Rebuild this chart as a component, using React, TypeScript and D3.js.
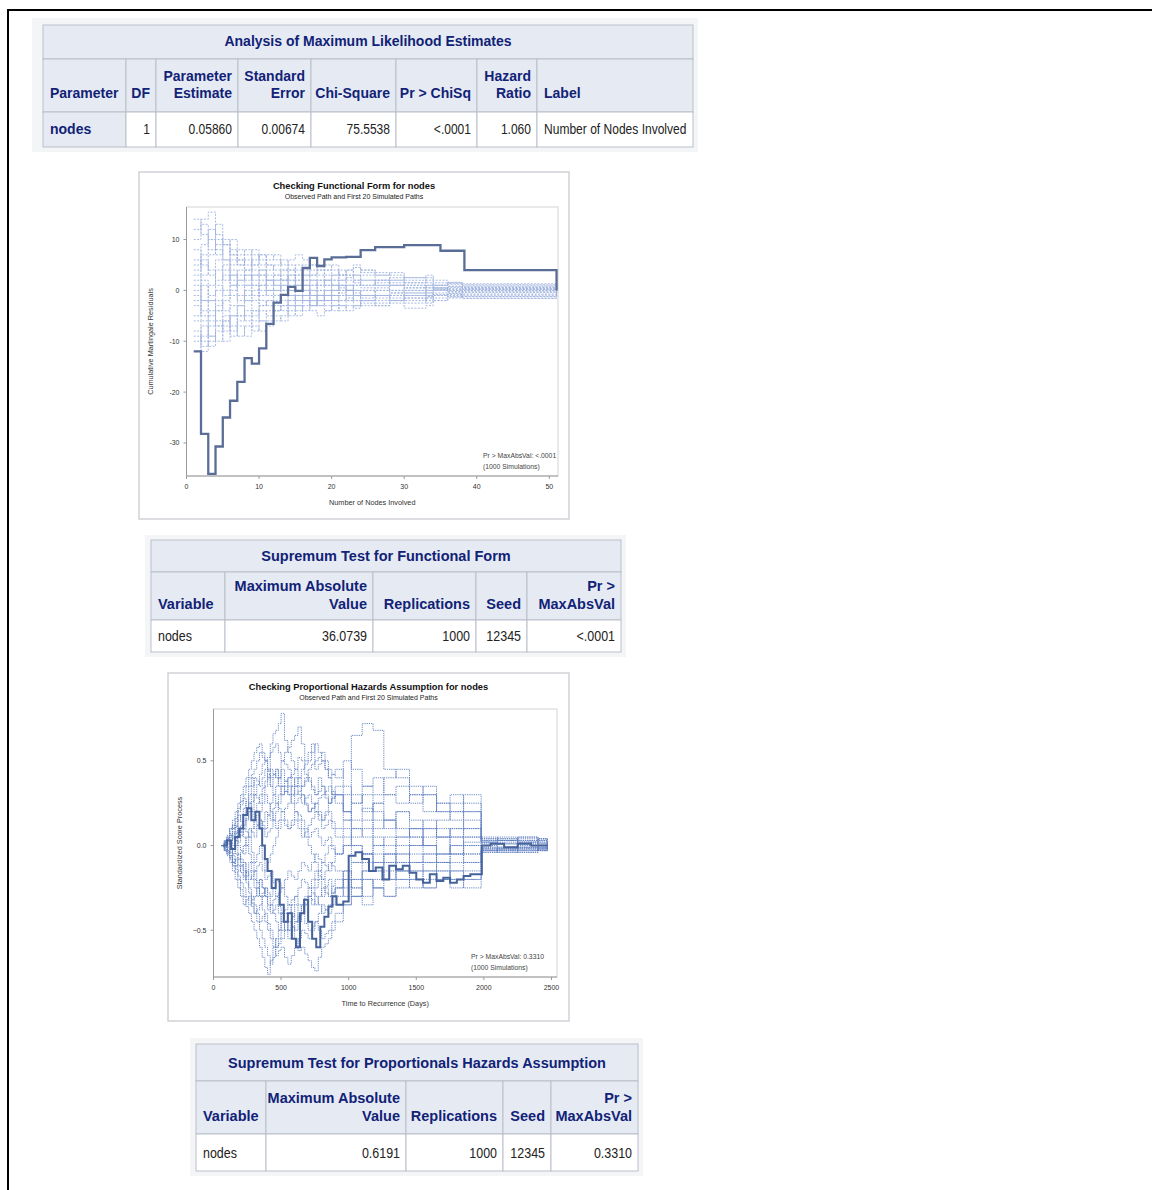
import React from 'react';
import * as d3 from 'd3';

const FONT = "'Liberation Sans', Arial, Helvetica, sans-serif";
const NAVY = '#112277';
const HEAD_BG = '#e6ebf3';
const BORDER = '#b9bfca';
const OUTER_BG = '#f4f5f7';

// ---------- Table data ----------
const mleTitle = 'Analysis of Maximum Likelihood Estimates';
const mleHeaders = [['Parameter'], ['DF'], ['Parameter', 'Estimate'], ['Standard', 'Error'], ['Chi-Square'], ['Pr > ChiSq'], ['Hazard', 'Ratio'], ['Label']];
const mleRow = ['nodes', '1', '0.05860', '0.00674', '75.5538', '<.0001', '1.060', 'Number of Nodes Involved'];

const supFFTitle = 'Supremum Test for Functional Form';
const supHeaders = [['Variable'], ['Maximum Absolute', 'Value'], ['Replications'], ['Seed'], ['Pr >', 'MaxAbsVal']];
const supFFRow = ['nodes', '36.0739', '1000', '12345', '<.0001'];

const supPHTitle = 'Supremum Test for Proportionals Hazards Assumption';
const supPHRow = ['nodes', '0.6191', '1000', '12345', '0.3310'];

// ---------- Chart 1: functional form ----------
const ffObsX = [1, 2, 3, 4, 5, 6, 7, 8, 9, 10, 11, 12, 13, 14, 15, 16, 17, 18, 19, 20, 22, 24, 26, 30, 35, 38.3, 51];
const ffObsY = [-12, -28.2, -36.1, -30.7, -25, -21.7, -18, -13.3, -14.4, -11.4, -6.6, -2.4, -0.9, 0.7, -0.1, 4.4, 6.4, 4.8, 6.1, 6.5, 6.6, 7.9, 8.5, 8.9, 7.8, 4.0, 0];

const ffSimX = [1, 2, 3, 4, 5, 6, 7, 8, 9, 10, 11, 12, 13, 14, 15, 16, 17, 18, 19, 20, 21, 22, 23, 24, 26, 28, 30, 33, 34, 36, 38, 51];
const ffSim01 = [5, 9, 12, 8, 6, 4, 2, 3, 1, -1, 0, 2, 3, 1, 2, 3, 2, 1, 2, 3, 2, 2.5, 3, 2, 1.5, 2, 1, 0.5, 1, 0.8, 0.6, 0];
const ffSim02 = [-3, -6, -9, -7, -5, -8, -6, -4, -5, -3, -2, -4, -3, -1, -2, -1, 0, -1, -2, -1, -0.5, 0, -1, -1.5, -1, -0.5, -1, -1.2, -0.8, -0.5, -0.9, 0];
const ffSim03 = [12, 14, 15.4, 11, 9, 7, 5, 6, 4, 3, 5, 4, 2, 3, 1, 2, 3, 2, 1, 0, 1, 2, 1.5, 1, 2, 1, 0, 0.5, 0.3, 0.6, 0.2, 0];
const ffSim04 = [-8, -11, -9, -10, -7, -5, -7, -9, -6, -4, -5, -3, -4, -2, -3, -2, -1, -3, -2, -3, -2, -1.5, -2, -3, -2.5, -2, -1.5, -2, -1, -1.3, -0.7, 0];
const ffSim05 = [2, -2, 1, 4, 2, 6, 8, 5, 7, 6, 4, 5, 6, 4, 5, 3, 4, 5, 4, 3, 4, 3, 4.5, 3.5, 3, 2, 2.5, 1.5, 1, 1.4, 1.1, 0];
const ffSim06 = [-12, -9, -5, -2, -4, -1, -3, 0, -2, 1, -1, 0, 1, -1, 0, 1, 0, -1, 0, 1, 0.5, 0, -0.5, 0, 0.5, 0, -0.5, 0, 0.2, -0.2, 0, 0];
const ffSim07 = [8, 5, 3, 6, 4, 1, 3, 1, -1, 2, 0, -2, -1, 0, -2, -1, -3, -2, -1, -2, -1, -2, -1, -2, -1.5, -1, -2, -1.5, -1, -0.8, -1.2, 0];
const ffSim08 = [0, 3, 7, 9, 10, 7, 5, 7, 8, 5, 7, 6, 4, 5, 3, 4, 5, 3, 4, 5, 3, 4, 3, 4, 3.5, 3, 2, 2.5, 1.5, 1.2, 0.9, 0];
const ffSim09 = [-5, -2, -4, -7, -10, -7, -9, -7, -8, -6, -7, -5, -6, -4, -5, -3, -4, -5, -4, -3, -4, -3, -3.5, -2.5, -3, -2, -2.5, -1.5, -2, -1.2, -1.5, 0];
const ffSim10 = [10, 13, 10, 7, 9, 5, 6, 4, 2, 3, 1, 3, 2, 4, 3, 1, 2, 0, 1, 2, 1, 0, 1, 0.5, 1, 1.5, 1, 0, 0.5, 0.2, 0.4, 0];
const ffSim11 = [-10, -7, -11, -8, -6, -9, -5, -6, -4, -6, -4, -6, -5, -3, -4, -2, -3, -2, -3, -4, -3, -2, -3, -2, -1, -2, -1, -2.5, -1.5, -1, -1.6, 0];
const ffSim12 = [3, 6, 4, 1, -1, 1, -2, -1, 1, 0, 2, 1, -1, 0, 1, 0, -1, 1, 2, 1, 0, 1, 0, -1, 0, 1, 0.5, 1, 0.5, 0, 0.3, 0];
const ffSim13 = [6, 2, -2, -4, -2, 0, 2, 4, 6, 7, 6, 7, 5, 6, 7, 6, 5, 4, 5, 4, 3, 4, 5, 4, 3, 3.5, 2.5, 3, 2, 1.5, 1.3, 0];
const ffSim14 = [-6, -10, -7, -4, -6, -3, -5, -2, -4, -2, -3, -1, 0, -2, -1, 0, -2, -1, -2, -1, -2, -1, 0, -1, -2, -1, -1.5, -0.5, -1, -0.6, -0.4, 0];
const ffSim15 = [1, -4, -6, -3, 0, 3, 1, -2, 0, -3, -2, -4, -2, -3, -1, -2, -3, -1, 0, -1, 0, -1, -2, -1, 0, -0.5, 0, -1, -0.5, 0, -0.3, 0];
const ffSim16 = [14, 11, 8, 10, 6, 8, 7, 8, 5, 4, 2, 1, 2, 0, 1, 2, 1, 2, 3, 2, 3, 1, 2, 3, 2, 1, 1.5, 1, 0.5, 0.8, 0.5, 0];
const ffSim17 = [-2, 1, -1, 2, 5, 3, 4, 2, 3, 1, 3, 2, 0, 2, 0, -1, 1, 0, -1, 0, -1, 0, 1, 2, 1, 0, 0.5, -0.5, 0, -0.3, -0.1, 0];
const ffSim18 = [-9, -12, -10, -6, -8, -5, -3, -5, -7, -8, -6, -4, -3, -5, -3, -4, -2, -3, -4, -2, -3, -4, -3, -2, -3, -2.5, -3.5, -3, -2, -1.5, -1.1, 0];
const ffSim19 = [4, 7, 10, 13, 9, 10, 6, 3, 5, 7, 5, 3, 4, 2, 4, 5, 3, 4, 2, 1, 2, 3, 2, 1, 2, 2.5, 1.5, 2, 1, 1.6, 0.7, 0];
const ffSim20 = [-1, -5, -2, 0, 3, 2, -1, 1, 3, 4, 2, 0, 1, 3, 2, 1, -1, -2, -1, 0, 1, 0, -1, 0, -1, -1.5, -0.5, -1, 0, 0.4, 0.1, 0];
const ffSims = [ffSim01, ffSim02, ffSim03, ffSim04, ffSim05, ffSim06, ffSim07, ffSim08, ffSim09, ffSim10, ffSim11, ffSim12, ffSim13, ffSim14, ffSim15, ffSim16, ffSim17, ffSim18, ffSim19, ffSim20];
const ffXTicks = [0, 10, 20, 30, 40, 50];
const ffYTicks = [-30, -20, -10, 0, 10];

// ---------- Chart 2: proportional hazards ----------
const phObsT = [70, 100, 130, 160, 190, 220, 250, 280, 310, 340, 360, 380, 400, 430, 460, 490, 520, 550, 580, 610, 640, 670, 700, 730, 760, 790, 820, 850, 880, 910, 960, 1000, 1050, 1100, 1150, 1200, 1250, 1300, 1350, 1400, 1450, 1500, 1550, 1600, 1650, 1700, 1750, 1800, 1850, 1900, 1985, 2050, 2150, 2250, 2350, 2470];
const phObsY = [0, 0.03, -0.02, 0.05, 0.1, 0.18, 0.22, 0.15, 0.2, 0.1, 0.0, -0.08, -0.15, -0.25, -0.2, -0.35, -0.45, -0.4, -0.55, -0.6, -0.4, -0.32, -0.45, -0.55, -0.6, -0.48, -0.42, -0.36, -0.3, -0.35, -0.33, -0.06, -0.04, -0.08, -0.15, -0.13, -0.2, -0.12, -0.14, -0.12, -0.16, -0.2, -0.22, -0.17, -0.21, -0.19, -0.22, -0.2, -0.18, -0.17, 0.0, 0.01, -0.01, 0.01, 0.0, 0];

const phSimT = [60, 80, 100, 120, 140, 160, 180, 200, 220, 240, 260, 280, 300, 320, 340, 360, 380, 400, 420, 440, 460, 480, 500, 525, 550, 575, 600, 625, 650, 675, 700, 725, 750, 775, 800, 825, 850, 875, 900, 960, 1020, 1100, 1180, 1260, 1350, 1450, 1550, 1650, 1750, 1850, 1980, 2100, 2250, 2400, 2470];
const phSim01 = [0, 0.02, 0.05, 0.1, 0.12, 0.08, 0.2, 0.24, 0.28, 0.22, 0.35, 0.4, 0.3, 0.36, 0.42, 0.48, 0.5, 0.44, 0.6, 0.66, 0.68, 0.72, 0.78, 0.62, 0.55, 0.5, 0.45, 0.52, 0.5, 0.42, 0.38, 0.33, 0.3, 0.4, 0.35, 0.28, 0.25, 0.32, 0.3, 0.2, 0.15, 0.22, 0.1, 0.15, 0.05, 0.1, 0.0, 0.05, -0.05, 0.02, 0.02, 0.03, 0.01, 0.02, 0];
const phSim02 = [0, -0.03, -0.05, -0.02, -0.12, -0.16, -0.2, -0.26, -0.3, -0.36, -0.4, -0.45, -0.5, -0.55, -0.6, -0.66, -0.72, -0.76, -0.68, -0.6, -0.55, -0.5, -0.45, -0.4, -0.5, -0.42, -0.35, -0.45, -0.4, -0.34, -0.3, -0.35, -0.25, -0.2, -0.3, -0.24, -0.2, -0.28, -0.25, -0.15, -0.2, -0.1, -0.15, -0.05, -0.1, 0, -0.05, -0.1, -0.05, 0, -0.02, -0.03, -0.01, -0.02, 0];
const phSim03 = [0, 0.01, 0.03, 0.07, 0.1, 0.12, 0.05, 0.1, 0.15, 0.2, 0.25, 0.3, 0.2, 0.25, 0.3, 0.34, 0.38, 0.42, 0.35, 0.4, 0.45, 0.4, 0.5, 0.55, 0.58, 0.62, 0.65, 0.7, 0.6, 0.5, 0.55, 0.6, 0.45, 0.48, 0.5, 0.45, 0.4, 0.3, 0.35, 0.3, 0.25, 0.3, 0.2, 0.15, 0.2, 0.1, 0.15, 0.05, 0.1, 0.15, 0.03, 0.04, 0.02, 0.03, 0];
const phSim04 = [0, 0.02, -0.02, 0.03, 0.05, 0.0, -0.05, -0.08, -0.1, -0.18, -0.15, -0.2, -0.25, -0.3, -0.2, -0.25, -0.3, -0.38, -0.35, -0.4, -0.45, -0.5, -0.4, -0.45, -0.5, -0.48, -0.55, -0.62, -0.6, -0.64, -0.68, -0.72, -0.74, -0.66, -0.6, -0.58, -0.55, -0.5, -0.45, -0.35, -0.3, -0.2, -0.25, -0.15, -0.2, -0.1, -0.15, -0.2, -0.1, -0.05, -0.03, -0.02, -0.03, -0.01, 0];
const phSim05 = [0, 0.02, 0.04, 0.06, 0.08, 0.05, 0.02, 0.06, 0.1, 0.08, 0.05, 0.1, 0.15, 0.12, 0.1, 0.14, 0.2, 0.18, 0.15, 0.22, 0.25, 0.22, 0.2, 0.15, 0.1, 0.12, 0.15, 0.1, 0.05, 0.08, 0.12, 0.16, 0.2, 0.18, 0.15, 0.2, 0.25, 0.28, 0.3, 0.15, 0.65, 0.72, 0.68, 0.45, 0.4, 0.3, 0.35, 0.25, 0.3, 0.2, 0.04, 0.05, 0.03, 0.04, 0];
const phSim06 = [0, -0.01, -0.03, -0.06, -0.08, -0.12, -0.15, -0.12, -0.1, -0.16, -0.2, -0.18, -0.15, -0.22, -0.3, -0.28, -0.25, -0.3, -0.35, -0.32, -0.3, -0.36, -0.4, -0.38, -0.35, -0.4, -0.45, -0.42, -0.4, -0.46, -0.5, -0.48, -0.45, -0.5, -0.55, -0.52, -0.5, -0.45, -0.4, -0.35, -0.3, -0.35, -0.25, -0.3, -0.2, -0.25, -0.15, -0.2, -0.25, -0.2, -0.04, -0.03, -0.04, -0.02, 0];
const phSim07 = [0, 0.01, 0.02, -0.02, -0.05, 0.0, 0.05, 0.08, 0.12, 0.16, 0.2, 0.26, 0.3, 0.28, 0.25, 0.3, 0.35, 0.4, 0.45, 0.42, 0.4, 0.35, 0.3, 0.32, 0.35, 0.3, 0.25, 0.28, 0.3, 0.24, 0.2, 0.22, 0.25, 0.2, 0.15, 0.18, 0.2, 0.14, 0.1, 0.15, 0.05, 0.1, 0, 0.05, -0.05, 0, 0.05, 0.1, 0.05, 0.1, 0.01, -0.01, 0.02, 0, 0];
const phSim08 = [0, -0.02, -0.04, -0.07, -0.1, -0.08, -0.05, -0.1, -0.15, -0.2, -0.25, -0.3, -0.35, -0.4, -0.45, -0.42, -0.4, -0.46, -0.5, -0.55, -0.6, -0.58, -0.55, -0.5, -0.45, -0.48, -0.5, -0.45, -0.4, -0.35, -0.3, -0.32, -0.35, -0.3, -0.25, -0.28, -0.3, -0.24, -0.2, -0.25, -0.3, -0.2, -0.25, -0.3, -0.25, -0.2, -0.25, -0.15, -0.2, -0.25, -0.02, -0.04, -0.02, -0.03, 0];
const phSim09 = [0, 0.03, 0.06, 0.1, 0.12, 0.16, 0.22, 0.26, 0.3, 0.35, 0.4, 0.42, 0.45, 0.5, 0.55, 0.52, 0.5, 0.45, 0.4, 0.42, 0.45, 0.4, 0.35, 0.38, 0.4, 0.35, 0.3, 0.32, 0.35, 0.4, 0.45, 0.48, 0.5, 0.52, 0.55, 0.5, 0.45, 0.42, 0.4, 0.5, 0.45, 0.35, 0.4, 0.3, 0.35, 0.25, 0.3, 0.2, 0.25, 0.3, 0.05, 0.04, 0.05, 0.03, 0];
const phSim10 = [0, -0.01, 0.01, 0.03, 0.06, 0.03, 0.0, -0.03, -0.05, 0.0, 0.05, -0.04, -0.1, -0.05, 0.0, -0.08, -0.15, -0.1, -0.05, 0.0, 0.05, 0.1, 0.15, 0.12, 0.1, 0.15, 0.2, 0.18, 0.15, 0.1, 0.05, 0.08, 0.1, 0.05, 0.0, 0.03, 0.05, 0.0, -0.05, 0, 0.1, 0.05, 0.15, 0.1, 0.2, 0.15, 0.1, 0.05, 0.1, 0.05, 0, 0.01, -0.01, 0.01, 0];
const phSim11 = [0, -0.03, -0.06, -0.1, -0.15, -0.2, -0.25, -0.3, -0.35, -0.32, -0.3, -0.36, -0.4, -0.38, -0.35, -0.3, -0.25, -0.28, -0.3, -0.25, -0.2, -0.22, -0.25, -0.2, -0.15, -0.18, -0.2, -0.15, -0.1, -0.12, -0.15, -0.1, -0.05, -0.08, -0.1, -0.05, 0.0, -0.02, -0.05, 0.05, 0, -0.05, -0.1, -0.05, -0.15, -0.1, -0.05, -0.1, -0.15, -0.1, -0.03, -0.02, -0.01, -0.02, 0];
const phSim12 = [0, 0.01, 0.03, 0.06, 0.1, 0.14, 0.18, 0.14, 0.1, 0.15, 0.2, 0.15, 0.1, 0.12, 0.15, 0.1, 0.05, 0.08, 0.1, 0.15, 0.2, 0.25, 0.3, 0.35, 0.4, 0.42, 0.45, 0.4, 0.35, 0.38, 0.4, 0.35, 0.3, 0.32, 0.35, 0.3, 0.25, 0.28, 0.3, 0.2, 0.25, 0.35, 0.3, 0.4, 0.45, 0.35, 0.3, 0.2, 0.15, 0.2, 0.02, 0.03, 0.02, 0.04, 0];
const phSim13 = [0, -0.01, -0.02, -0.04, -0.06, -0.09, -0.12, -0.16, -0.2, -0.15, -0.1, -0.15, -0.2, -0.25, -0.3, -0.38, -0.45, -0.5, -0.55, -0.6, -0.65, -0.62, -0.6, -0.66, -0.7, -0.65, -0.6, -0.55, -0.5, -0.52, -0.55, -0.5, -0.45, -0.4, -0.35, -0.38, -0.4, -0.35, -0.3, -0.2, -0.25, -0.15, -0.1, -0.2, -0.15, -0.05, -0.1, -0.05, 0, -0.05, -0.01, -0.02, 0, -0.01, 0];
const phSim14 = [0, 0.03, 0.05, 0.1, 0.15, 0.2, 0.25, 0.3, 0.35, 0.4, 0.45, 0.5, 0.55, 0.58, 0.6, 0.55, 0.5, 0.52, 0.55, 0.58, 0.6, 0.55, 0.5, 0.48, 0.45, 0.4, 0.35, 0.3, 0.25, 0.28, 0.3, 0.25, 0.2, 0.15, 0.1, 0.12, 0.15, 0.1, 0.05, 0.1, 0, -0.05, 0.05, 0, 0.05, 0.1, 0, -0.05, 0, 0.05, 0.03, 0.02, 0.04, 0.02, 0];
const phSim15 = [0, 0.01, -0.01, 0.02, 0.04, 0.07, 0.1, 0.08, 0.05, 0.0, -0.05, -0.1, -0.15, -0.12, -0.1, -0.15, -0.2, -0.18, -0.15, -0.22, -0.3, -0.28, -0.25, -0.3, -0.35, -0.32, -0.3, -0.35, -0.4, -0.35, -0.3, -0.25, -0.2, -0.15, -0.1, -0.12, -0.15, -0.1, -0.05, 0, -0.1, -0.05, -0.15, -0.2, -0.1, -0.15, -0.2, -0.1, -0.05, -0.1, -0.04, -0.03, -0.04, -0.03, 0];
const phSim16 = [0, 0.02, 0.04, 0.02, 0.0, 0.04, 0.08, 0.12, 0.18, 0.22, 0.25, 0.2, 0.15, 0.18, 0.2, 0.25, 0.3, 0.25, 0.2, 0.15, 0.1, 0.15, 0.2, 0.22, 0.25, 0.3, 0.35, 0.4, 0.45, 0.48, 0.5, 0.55, 0.6, 0.55, 0.5, 0.45, 0.4, 0.42, 0.45, 0.35, 0.3, 0.2, 0.25, 0.15, 0.1, 0.05, 0.1, 0.15, 0.2, 0.1, 0.02, 0.01, 0.03, 0.01, 0];
const phSim17 = [0, -0.02, -0.03, -0.06, -0.1, -0.14, -0.18, -0.22, -0.25, -0.3, -0.35, -0.32, -0.3, -0.25, -0.2, -0.25, -0.3, -0.35, -0.4, -0.38, -0.35, -0.4, -0.45, -0.5, -0.55, -0.5, -0.45, -0.4, -0.35, -0.3, -0.25, -0.28, -0.3, -0.35, -0.4, -0.38, -0.35, -0.3, -0.25, -0.3, -0.2, -0.15, -0.05, -0.1, -0.05, -0.15, -0.1, -0.15, -0.2, -0.15, -0.01, -0.02, -0.03, -0.01, 0];
const phSim18 = [0, 0.01, 0.02, 0.05, 0.07, 0.11, 0.15, 0.18, 0.22, 0.26, 0.3, 0.35, 0.4, 0.38, 0.35, 0.4, 0.45, 0.4, 0.35, 0.3, 0.25, 0.3, 0.35, 0.32, 0.3, 0.35, 0.4, 0.35, 0.3, 0.25, 0.2, 0.22, 0.25, 0.28, 0.3, 0.32, 0.35, 0.3, 0.25, 0.2, 0.1, 0.15, 0.25, 0.3, 0.25, 0.3, 0.2, 0.25, 0.2, 0.25, 0.04, 0.03, 0.05, 0.04, 0];
const phSim19 = [0, -0.03, -0.05, -0.08, -0.1, -0.12, -0.08, -0.12, -0.18, -0.22, -0.28, -0.34, -0.4, -0.45, -0.5, -0.55, -0.6, -0.65, -0.7, -0.66, -0.6, -0.55, -0.5, -0.45, -0.4, -0.35, -0.3, -0.25, -0.2, -0.22, -0.25, -0.2, -0.15, -0.18, -0.2, -0.15, -0.1, -0.12, -0.15, -0.2, -0.1, -0.05, 0, -0.05, 0, 0.05, 0, -0.05, 0.05, 0, -0.02, -0.01, -0.02, -0.02, 0];
const phSim20 = [0, 0.0, 0.01, -0.01, -0.02, -0.05, -0.08, -0.04, 0.0, 0.05, 0.1, 0.08, 0.05, 0.1, 0.15, 0.12, 0.1, 0.18, 0.25, 0.3, 0.35, 0.4, 0.45, 0.38, 0.3, 0.25, 0.2, 0.15, 0.1, 0.05, 0.0, -0.05, -0.1, -0.15, -0.2, -0.25, -0.3, -0.28, -0.25, -0.15, -0.25, -0.3, -0.2, -0.1, -0.15, -0.2, -0.25, -0.2, -0.15, -0.2, -0.03, -0.04, -0.02, -0.03, 0];
const phSims = [phSim01, phSim02, phSim03, phSim04, phSim05, phSim06, phSim07, phSim08, phSim09, phSim10, phSim11, phSim12, phSim13, phSim14, phSim15, phSim16, phSim17, phSim18, phSim19, phSim20];
const phXTicks = [0, 500, 1000, 1500, 2000, 2500];
const phYTicks = [-0.5, 0, 0.5];

// ---------- Components ----------
type TableProps = {
  edges: number[];
  rows: number[];
  base: number[];
  outer: number[];
  title: string;
  headers: string[][];
  row: string[];
  leftCols: number[];
  rowHeader: boolean;
  fs: number;
};

function Table(p: TableProps) {
  const [x0, x1] = [p.edges[0], p.edges[p.edges.length - 1]];
  const [t, tb, hb, b] = p.rows;
  const cols = p.edges.slice(0, -1).map((e, i) => ({ l: e, r: p.edges[i + 1] }));
  return (
    <g fontFamily={FONT}>
      <rect x={p.outer[0]} y={p.outer[1]} width={p.outer[2] - p.outer[0]} height={p.outer[3] - p.outer[1]} fill={OUTER_BG} />
      <rect x={x0} y={t} width={x1 - x0} height={tb - t} fill={HEAD_BG} stroke={BORDER} />
      <text x={(x0 + x1) / 2} y={p.base[0]} textAnchor="middle" fontWeight="bold" fontSize={p.fs} fill={NAVY}>{p.title}</text>
      {cols.map((c, i) => {
        const left = p.leftCols.includes(i);
        const tx = left ? c.l + 7 : c.r - 6;
        const lines = p.headers[i];
        const rh = p.rowHeader && i === 0;
        const val = p.row[i];
        return (
          <g key={i}>
            <rect x={c.l} y={tb} width={c.r - c.l} height={hb - tb} fill={HEAD_BG} stroke={BORDER} />
            <rect x={c.l} y={hb} width={c.r - c.l} height={b - hb} fill={rh ? HEAD_BG : '#ffffff'} stroke={BORDER} />
            {lines.map((ln, j) => (
              <text key={j} x={tx} y={lines.length === 2 ? p.base[1 + j] : p.base[2]} textAnchor={left ? 'start' : 'end'} fontWeight="bold" fontSize={p.fs} fill={NAVY}>{ln}</text>
            ))}
            {rh ? (
              <text x={tx} y={p.base[3]} textAnchor="start" fontWeight="bold" fontSize={p.fs} fill={NAVY}>{val}</text>
            ) : (
              <text transform={`translate(${tx},${p.base[3]}) scale(0.86,1)`} textAnchor={left ? 'start' : 'end'} fontSize={p.fs} fill="#222">{val}</text>
            )}
          </g>
        );
      })}
    </g>
  );
}

type ChartProps = {
  id: string;
  panel: number[];
  plot: number[];
  xDomain: number[];
  yDomain: number[];
  xTicks: number[];
  yTicks: number[];
  yFmt: (v: number) => string;
  title: string;
  subtitle: string;
  xLabel: string;
  yLabel: string;
  ann: string[];
  annX: number;
  annY: number;
  obsX: number[];
  obsY: number[];
  simX: number[];
  sims: number[][];
  simColor: string;
  simDash: string;
  simWidth: number;
  obsColor: string;
  obsWidth: number;
};

function StepChart(c: ChartProps) {
  const [l, t, r, b] = c.plot;
  const x = d3.scaleLinear().domain(c.xDomain).range([l, r]);
  const y = d3.scaleLinear().domain(c.yDomain).range([b, t]);
  const line = d3.line<[number, number]>().x(d => x(d[0])).y(d => y(d[1])).curve(d3.curveStepAfter);
  const cx = (c.panel[0] + c.panel[0] + c.panel[2]) / 2;
  const midY = (t + b) / 2;
  const axisCol = '#9a9a9a';
  return (
    <g fontFamily={FONT}>
      <rect x={c.panel[0]} y={c.panel[1]} width={c.panel[2]} height={c.panel[3]} fill="#ffffff" stroke="#cfd2d6" strokeWidth={1.5} />
      <text x={cx} y={c.panel[1] + 17} textAnchor="middle" fontWeight="bold" fontSize={9.3} fill="#111">{c.title}</text>
      <text x={cx} y={c.panel[1] + 27} textAnchor="middle" fontSize={7} fill="#222">{c.subtitle}</text>
      <defs>
        <clipPath id={c.id}>
          <rect x={l} y={t} width={r - l} height={b - t} />
        </clipPath>
      </defs>
      <rect x={l} y={t} width={r - l} height={b - t} fill="none" stroke="#d4d4d4" />
      <g clipPath={`url(#${c.id})`}>
        {c.sims.map((s, i) => (
          <path key={i} d={line(c.simX.map((v, k) => [v, s[k]] as [number, number])) || ''} fill="none" stroke={c.simColor} strokeWidth={c.simWidth} strokeDasharray={c.simDash} />
        ))}
        <path d={line(c.obsX.map((v, k) => [v, c.obsY[k]] as [number, number])) || ''} fill="none" stroke={c.obsColor} strokeWidth={c.obsWidth} />
      </g>
      <line x1={l} x2={l} y1={t} y2={b} stroke={axisCol} />
      <line x1={l} x2={r} y1={b} y2={b} stroke={axisCol} />
      {c.xTicks.map(v => (
        <g key={'x' + v}>
          <line x1={x(v)} x2={x(v)} y1={b} y2={b + 3} stroke={axisCol} />
          <text x={x(v)} y={b + 13} textAnchor="middle" fontSize={7} fill="#333">{v}</text>
        </g>
      ))}
      {c.yTicks.map(v => (
        <g key={'y' + v}>
          <line x1={l - 3} x2={l} y1={y(v)} y2={y(v)} stroke={axisCol} />
          <text x={l - 7} y={y(v) + 2.5} textAnchor="end" fontSize={7} fill="#333">{c.yFmt(v)}</text>
        </g>
      ))}
      <text x={(l + r) / 2} y={b + 29} textAnchor="middle" fontSize={7.3} fill="#333">{c.xLabel}</text>
      <text transform={`translate(${c.panel[0] + 14},${midY}) rotate(-90)`} textAnchor="middle" fontSize={7.3} fill="#333">{c.yLabel}</text>
      {c.ann.map((a, i) => (
        <text key={i} x={c.annX} y={c.annY + i * 11} fontSize={6.8} fill="#444">{a}</text>
      ))}
    </g>
  );
}

export default function App() {
  return (
    <svg width={1152} height={1190} style={{ position: 'absolute', left: 0, top: 0, display: 'block' }} xmlns="http://www.w3.org/2000/svg">
      <rect x={0} y={0} width={1152} height={1190} fill="#ffffff" />
      <line x1={7} x2={1152} y1={10} y2={10} stroke="#000" strokeWidth={2} />
      <line x1={8} x2={8} y1={9} y2={1190} stroke="#000" strokeWidth={2} />

      <Table edges={[43, 126, 156, 238, 311, 396, 477, 537, 693]} rows={[25, 59, 112, 147]} base={[46, 81, 98, 134]} outer={[32, 18, 698, 152]}
        title={mleTitle} headers={mleHeaders} row={mleRow} leftCols={[0, 7]} rowHeader={true} fs={14} />

      <StepChart id="clipFF" panel={[139, 172, 430, 347]} plot={[186.5, 207, 558, 476]} xDomain={[0, 51.2]} yDomain={[-36.5, 16.4]}
        xTicks={ffXTicks} yTicks={ffYTicks} yFmt={v => String(v)}
        title="Checking Functional Form for nodes" subtitle="Observed Path and First 20 Simulated Paths"
        xLabel="Number of Nodes Involved" yLabel="Cumulative Martingale Residuals"
        ann={['Pr > MaxAbsVal: <.0001', '(1000 Simulations)']} annX={483} annY={458}
        obsX={ffObsX} obsY={ffObsY} simX={ffSimX} sims={ffSims}
        simColor="#9fb2de" simDash="2,1.4" simWidth={0.9} obsColor="#5a6d97" obsWidth={2.3} />

      <Table edges={[151, 225, 373, 476, 527, 621]} rows={[540, 572, 620, 652]} base={[561, 591, 609, 641]} outer={[145, 535, 626, 657]}
        title={supFFTitle} headers={supHeaders} row={supFFRow} leftCols={[0]} rowHeader={false} fs={14.5} />

      <StepChart id="clipPH" panel={[168, 673, 401, 348]} plot={[213.5, 709, 557, 977]} xDomain={[0, 2541]} yDomain={[-0.776, 0.806]}
        xTicks={phXTicks} yTicks={phYTicks} yFmt={v => d3.format('.1f')(v)}
        title="Checking Proportional Hazards Assumption for nodes" subtitle="Observed Path and First 20 Simulated Paths"
        xLabel="Time to Recurrence (Days)" yLabel="Standardized Score Process"
        ann={['Pr > MaxAbsVal: 0.3310', '(1000 Simulations)']} annX={471} annY={959}
        obsX={phObsT} obsY={phObsY} simX={phSimT} sims={phSims}
        simColor="#5b7cc0" simDash="1.2,1" simWidth={0.9} obsColor="#46629a" obsWidth={2} />

      <Table edges={[196, 266, 406, 503, 551, 638]} rows={[1044, 1081, 1134, 1171]} base={[1068, 1103, 1121, 1158]} outer={[190, 1038, 643, 1176]}
        title={supPHTitle} headers={supHeaders} row={supPHRow} leftCols={[0]} rowHeader={false} fs={14.5} />
    </svg>
  );
}
